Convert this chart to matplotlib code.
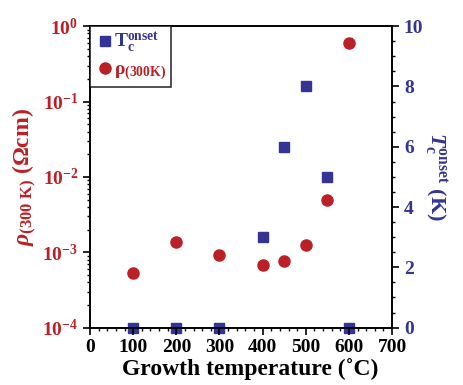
import matplotlib
matplotlib.use("Agg")
import matplotlib.pyplot as plt
from matplotlib.ticker import MultipleLocator, LogLocator, NullFormatter

plt.rcParams['font.family'] = ['Liberation Serif', 'DejaVu Serif']
plt.rcParams['font.weight'] = 'bold'
plt.rcParams['mathtext.fontset'] = 'custom'
plt.rcParams['mathtext.rm'] = 'Liberation Serif:bold'
plt.rcParams['mathtext.bf'] = 'Liberation Serif:bold'
plt.rcParams['mathtext.it'] = 'Liberation Serif:italic:bold'

RED = '#bb2026'
BLUE = '#343494'

rho_T = [100, 200, 300, 400, 450, 500, 550, 600]
rho_vals = [5.35e-4, 1.36e-3, 9.1e-4, 6.8e-4, 7.7e-4, 1.26e-3, 4.9e-3, 0.6]

tc_T = [100, 200, 300, 400, 450, 500, 550, 600]
tc_vals = [0, 0, 0, 3.0, 6.0, 8.0, 5.0, 0]

fig = plt.figure(figsize=(4.64, 3.85), dpi=100)
ax = fig.add_axes([0.194, 0.149, 0.651, 0.783])
ax2 = ax.twinx()

ax.set_yscale('log')
ax.set_ylim(1e-4, 1)
ax.set_xlim(0, 700)
ax2.set_ylim(0, 10)

h1, = ax2.plot(tc_T, tc_vals, 's', color=BLUE, markersize=7.5, clip_on=False, zorder=5,
               label=r'$\mathregular{T}_{\mathregular{c}}^{\mathregular{onset}}$')
h2, = ax.plot(rho_T, rho_vals, 'o', color=RED, markersize=8, clip_on=False, zorder=5,
              label=r'$\mathregular{\rho}_{\mathregular{(300K)}}$')
ax.set_zorder(ax2.get_zorder() + 1)
ax.patch.set_visible(False)

ax.xaxis.set_major_locator(MultipleLocator(100))
ax.xaxis.set_minor_locator(MultipleLocator(20))
ax.yaxis.set_major_locator(LogLocator(base=10, numticks=10))
ax.yaxis.set_minor_locator(LogLocator(base=10, subs=range(2, 10), numticks=10))
ax.yaxis.set_minor_formatter(NullFormatter())
ax2.yaxis.set_major_locator(MultipleLocator(2))
ax2.yaxis.set_minor_locator(MultipleLocator(0.5))

ax.tick_params(axis='x', which='major', direction='out', length=5, width=1.2, labelsize=14, colors='black', top=False, pad=3)
ax.tick_params(axis='x', which='minor', direction='out', length=2.5, width=1)
ax.tick_params(axis='y', which='major', direction='out', length=5, width=1.2, labelsize=14, labelcolor=RED)
ax.tick_params(axis='y', which='minor', direction='out', length=2.5, width=1)
ax2.tick_params(axis='y', which='major', direction='out', length=5, width=1.2, labelsize=14, labelcolor=BLUE)
ax2.tick_params(axis='y', which='minor', direction='out', length=2.5, width=1)

for a in (ax, ax2):
    for s in a.spines.values():
        s.set_linewidth(1.2)

for lab in ax.get_xticklabels() + ax.get_yticklabels() + ax2.get_yticklabels():
    lab.set_fontweight('bold')

ax.set_xlabel('Growth temperature (˚C)', fontsize=17, fontweight='bold', labelpad=1)
ax.xaxis.set_label_coords(0.53, -0.1)
ax.set_ylabel(r'$\rho_{\mathregular{(300\ K)}}$ (Ωcm)', fontsize=17, fontweight='bold', color=RED, labelpad=2)
ax2.set_ylabel(r'$T_{\mathregular{c}}^{\mathregular{onset}}$ (K)', fontsize=16, fontweight='bold',
               color=BLUE, rotation=270, labelpad=18)

leg = ax.legend(handles=[h1, h2], loc='upper left', frameon=True, fancybox=False,
                edgecolor='black', borderpad=0.25, handletextpad=0.0, handlelength=1.0,
                labelspacing=0.3, fontsize=14, borderaxespad=0)
leg.get_frame().set_linewidth(1.2)
for t, c in zip(leg.get_texts(), [BLUE, RED]):
    t.set_color(c)

fig.savefig('out.png', dpi=100)
